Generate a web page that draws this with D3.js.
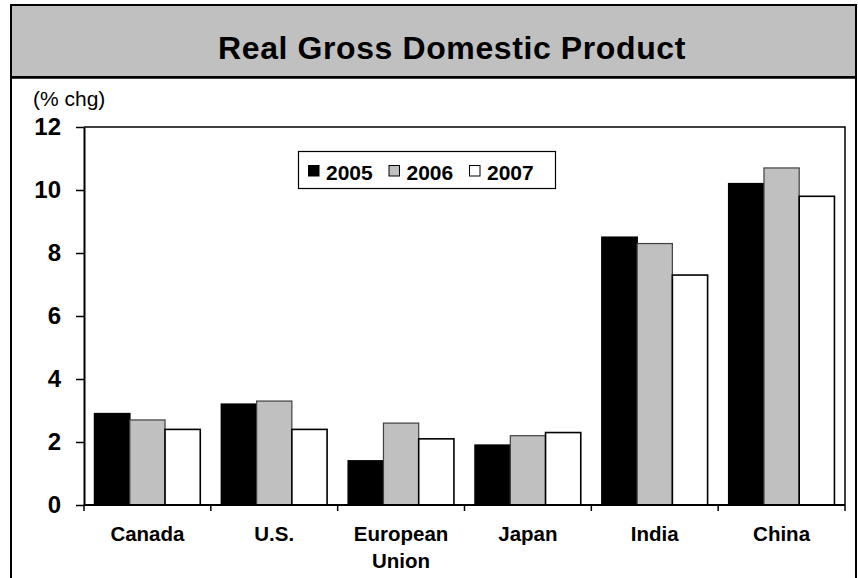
<!DOCTYPE html>
<html>
<head>
<meta charset="utf-8">
<script src="https://cdn.jsdelivr.net/npm/d3@7"></script>
<style>
  html, body { margin: 0; padding: 0; background: #fff; }
  svg { display: block; font-family: "Liberation Sans", Arial, Helvetica, sans-serif; }
</style>
</head>
<body>
<svg id="chart" width="858" height="578"></svg>
<script>
// Real GDP growth, % change by country and year
const categories = ["Canada", "U.S.", "European Union", "Japan", "India", "China"];
const years = ["2005", "2006", "2007"];
const values2005 = [2.9, 3.2, 1.4, 1.9, 8.5, 10.2];
const values2006 = [2.7, 3.3, 2.6, 2.2, 8.3, 10.7];
const values2007 = [2.4, 2.4, 2.1, 2.3, 7.3, 9.8];
const yTicks = [0, 2, 4, 6, 8, 10, 12];
const titleText = "Real Gross Domestic Product";
const unitText = "(% chg)";

const seriesValues = [values2005, values2006, values2007];
const fills = ["#000000", "#c0c0c0", "#ffffff"];
const strokes = ["#000000", "#404040", "#000000"];

const svg = d3.select("#chart");

// outer frame and title band
const frame = { left: 11, top: 5, right: 856, bottom: 590 };
svg.append("rect")
  .attr("x", frame.left).attr("y", frame.top)
  .attr("width", frame.right - frame.left).attr("height", frame.bottom - frame.top)
  .attr("fill", "#fff").attr("stroke", "#000").attr("stroke-width", 2);
svg.append("rect")
  .attr("x", frame.left).attr("y", frame.top)
  .attr("width", frame.right - frame.left).attr("height", 72)
  .attr("fill", "#c0c0c0").attr("stroke", "#000").attr("stroke-width", 2);
svg.append("line")
  .attr("x1", frame.left).attr("x2", frame.right)
  .attr("y1", 77.5).attr("y2", 77.5)
  .attr("stroke", "#000").attr("stroke-width", 2.5);

svg.append("text")
  .attr("x", 452).attr("y", 59)
  .attr("text-anchor", "middle")
  .attr("font-size", 32).attr("font-weight", "bold")
  .attr("letter-spacing", 0.6)
  .text(titleText);

svg.append("text")
  .attr("x", 33).attr("y", 106)
  .attr("font-size", 21)
  .text(unitText);

// plot area
const plot = { left: 84, right: 845, top: 127, bottom: 505 };

const x0 = d3.scaleBand().domain(categories).range([plot.left, plot.right]).padding(0);
const x1 = d3.scaleBand().domain(years).range([0, x0.bandwidth()]).paddingInner(0).paddingOuter(0.3);
const y = d3.scaleLinear().domain([0, 12]).range([plot.bottom, plot.top]);

// plot border (top and right)
svg.append("path")
  .attr("d", `M${plot.left},${plot.top}H${plot.right}V${plot.bottom}`)
  .attr("fill", "none").attr("stroke", "#000").attr("stroke-width", 1.5);

// bars
const groups = svg.append("g").selectAll("g")
  .data(categories)
  .join("g")
  .attr("transform", d => `translate(${x0(d)},0)`);

groups.selectAll("rect")
  .data((c, ci) => years.map((yr, si) => ({ yr, si, v: seriesValues[si][ci] })))
  .join("rect")
  .attr("x", d => x1(d.yr))
  .attr("y", d => y(d.v))
  .attr("width", x1.bandwidth())
  .attr("height", d => y(0) - y(d.v))
  .attr("fill", d => fills[d.si])
  .attr("stroke", d => strokes[d.si])
  .attr("stroke-width", d => d.si === 1 ? 1.2 : 1.6);

// y axis
const yAxis = d3.axisLeft(y).tickValues(yTicks).tickSize(8).tickSizeOuter(0).tickPadding(15).tickFormat(d3.format("d"));
const gy = svg.append("g").attr("transform", `translate(${plot.left},0)`).call(yAxis);
gy.select(".domain").attr("stroke-width", 2);
gy.selectAll(".tick line").attr("stroke-width", 1.5);
gy.selectAll(".tick text")
  .attr("font-size", 24).attr("font-weight", "bold")
  .attr("font-family", "'Liberation Sans', Arial, sans-serif").attr("fill", "#000");

// x axis line with boundary ticks
const gx = svg.append("g");
gx.append("line")
  .attr("x1", plot.left).attr("x2", plot.right)
  .attr("y1", plot.bottom).attr("y2", plot.bottom)
  .attr("stroke", "#000").attr("stroke-width", 2);
const bounds = categories.map(c => x0(c)).concat([x0(categories[categories.length - 1]) + x0.bandwidth()]);
gx.selectAll("line.b")
  .data(bounds)
  .join("line")
  .attr("class", "b")
  .attr("x1", d => d).attr("x2", d => d)
  .attr("y1", plot.bottom).attr("y2", plot.bottom + 6)
  .attr("stroke", "#000").attr("stroke-width", 1.5);

// category labels, long names wrapped on two lines
const labels = gx.selectAll("text.cat")
  .data(categories)
  .join("text")
  .attr("class", "cat")
  .attr("text-anchor", "middle")
  .attr("font-size", 20.5).attr("font-weight", "bold")
  .attr("x", d => x0(d) + x0.bandwidth() / 2)
  .attr("y", 541);
labels.each(function(d) {
  const parts = d.length > 10 ? d.split(" ") : [d];
  const t = d3.select(this);
  parts.forEach((p, i) => {
    t.append("tspan")
      .attr("x", x0(d) + x0.bandwidth() / 2)
      .attr("dy", i === 0 ? 0 : 27)
      .text(p);
  });
});

// legend
const legend = svg.append("g");
legend.append("rect")
  .attr("x", 298.5).attr("y", 151.5).attr("width", 257).attr("height", 37)
  .attr("fill", "#fff").attr("stroke", "#000").attr("stroke-width", 1.2);
const legendX = d3.scalePoint().domain(years).range([308, 469]);
const li = legend.selectAll("g")
  .data(years)
  .join("g")
  .attr("transform", d => `translate(${legendX(d)},0)`);
li.append("rect")
  .attr("x", 0.5).attr("y", 165.5).attr("width", 10.5).attr("height", 10.5)
  .attr("fill", (d, i) => fills[i]).attr("stroke", "#000").attr("stroke-width", 1);
li.append("text")
  .attr("x", 18).attr("y", 180)
  .attr("font-size", 21).attr("font-weight", "bold")
  .text(d => d);
</script>
</body>
</html>
